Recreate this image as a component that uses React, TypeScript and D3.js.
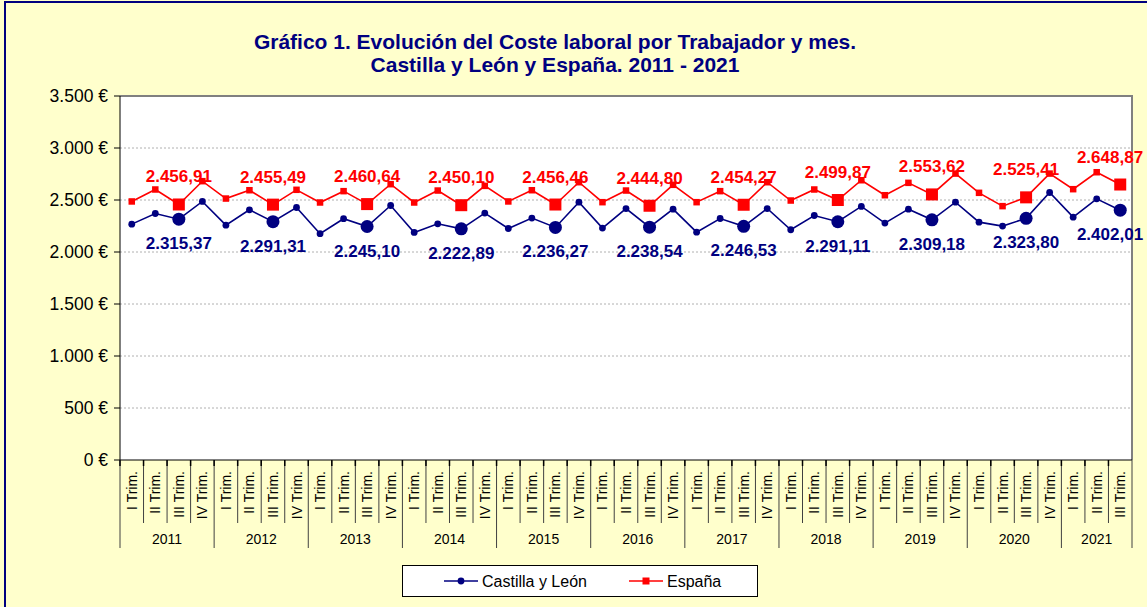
import React from "react";
import * as d3 from "d3";

const years = ["2011", "2012", "2013", "2014", "2015", "2016", "2017", "2018", "2019", "2020", "2021"];
const quarterNames = ["I Trim.", "II Trim.", "III Trim.", "IV Trim."];

// Castilla y León, euros per worker and month (2011 Q1 .. 2021 Q3)
const castillaLeon = [
  2268, 2370, 2315.37, 2486,
  2258, 2406, 2291.31, 2428,
  2176, 2320, 2245.1, 2447,
  2188, 2271, 2222.89, 2374,
  2226, 2326, 2236.27, 2479,
  2230, 2418, 2238.54, 2412,
  2191, 2322, 2246.53, 2418,
  2214, 2351, 2291.11, 2438,
  2278, 2412, 2309.18, 2479,
  2287, 2249, 2323.8, 2572,
  2335, 2511, 2402.01,
];

// España
const espana = [
  2486, 2601, 2456.91, 2681,
  2514, 2594, 2455.49, 2598,
  2476, 2585, 2460.64, 2652,
  2476, 2591, 2450.1, 2636,
  2486, 2594, 2456.46, 2671,
  2479, 2591, 2444.8, 2646,
  2479, 2585, 2454.27, 2671,
  2495, 2601, 2499.87, 2690,
  2546, 2665, 2553.62, 2754,
  2569, 2441, 2525.41, 2754,
  2604, 2767, 2648.87,
];

const yTicks = [0, 500, 1000, 1500, 2000, 2500, 3000, 3500];

const W = 1147;
const H = 607;
const left = 120, right = 1132, top = 96, bottom = 460;
const BLUE = "#000080";
const RED = "#FF0000";

const es = d3.formatLocale({ decimal: ",", thousands: ".", grouping: [3], currency: ["", " €"] });
const fmtVal = es.format(",.2f");
const fmtTick = es.format(",");

export default function App() {
  const n = castillaLeon.length;
  const idx = d3.range(n);
  const x = d3.scaleBand<number>().domain(idx).range([left, right]).padding(0);
  const y = d3.scaleLinear().domain([0, 3500]).range([bottom, top]);
  const cx = (i: number) => (x(i) as number) + x.bandwidth() / 2;

  const lineGen = d3.line<number>().x((_, i) => cx(i)).y((v) => y(v));

  // categories: quarter of each point, year groups
  const quarterOf = (i: number) => quarterNames[i % 4];
  const yearStart = years.map((_, k) => k * 4);
  const labelX = (i: number) => Math.min(cx(i), 1110);

  return (
    <svg width={W} height={H} style={{ position: "absolute", left: 0, top: 0 }} fontFamily="Arial, 'Liberation Sans', sans-serif">
      <rect x={0} y={0} width={W} height={H} fill="#FFFFCC" />
      <rect x={5} y={2} width={W + 20} height={H + 20} fill="#FFFFCC" stroke={BLUE} strokeWidth={2} />

      {/* title */}
      <text x={555} y={49} textAnchor="middle" fontSize={21} fontWeight="bold" fill={BLUE}>
        Gráfico 1. Evolución del Coste laboral por Trabajador y mes.
      </text>
      <text x={555} y={72} textAnchor="middle" fontSize={21} fontWeight="bold" fill={BLUE}>
        Castilla y León y España. 2011 - 2021
      </text>

      {/* plot area */}
      <rect x={left} y={top} width={right - left} height={bottom - top} fill="#fff" />
      {yTicks.filter((t) => t > 0 && t < 3500).map((t) => (
        <line key={t} x1={left} x2={right} y1={y(t)} y2={y(t)} stroke="#b0b0b0" strokeDasharray="2,2" />
      ))}
      <line x1={left} x2={right + 1} y1={top} y2={top} stroke="#808080" strokeWidth={2} />
      <line x1={right} x2={right} y1={top} y2={bottom} stroke="#808080" strokeWidth={2} />

      {/* y axis */}
      <line x1={left} x2={left} y1={top} y2={bottom} stroke="#000" />
      {yTicks.map((t) => (
        <g key={t}>
          <line x1={left - 6} x2={left} y1={y(t)} y2={y(t)} stroke="#000" />
          <text x={108} y={y(t) + 6} textAnchor="end" fontSize={17.5} fill="#000">
            {fmtTick(t) + " €"}
          </text>
        </g>
      ))}

      {/* x axis */}
      <line x1={left} x2={right} y1={bottom} y2={bottom} stroke="#000" />
      {d3.range(n + 1).map((i) => {
        const xx = i < n ? (x(i) as number) : right;
        const isYear = i % 4 === 0 || i === n;
        return <line key={i} x1={xx} x2={xx} y1={bottom} y2={isYear ? 548 : 523} stroke="#404040" />;
      })}
      {idx.map((i) => (
        <line key={"tk" + i} x1={x(i) as number} x2={x(i) as number} y1={bottom} y2={bottom + 6} stroke="#000" strokeWidth={1.5} />
      ))}
      {idx.map((i) => (
        <text key={"q" + i} transform={`translate(${cx(i) + 5},471) rotate(-90)`} textAnchor="end" fontSize={14} fill="#000">
          {quarterOf(i)}
        </text>
      ))}
      {years.map((yr, k) => {
        const s = yearStart[k];
        const e = Math.min(s + 4, n);
        const x0 = x(s) as number;
        const x1 = e < n ? (x(e) as number) : right;
        return (
          <text key={yr} x={(x0 + x1) / 2} y={544} textAnchor="middle" fontSize={14} fill="#000">
            {yr}
          </text>
        );
      })}

      {/* series */}
      <path d={lineGen(castillaLeon) || ""} fill="none" stroke={BLUE} strokeWidth={1.6} />
      <path d={lineGen(espana) || ""} fill="none" stroke={RED} strokeWidth={1.6} />

      {castillaLeon.map((v, i) => (
        <circle key={"c" + i} cx={cx(i)} cy={y(v)} r={i % 4 === 2 ? 6.5 : 3.4} fill={BLUE} />
      ))}
      {espana.map((v, i) => {
        const s = i % 4 === 2 ? 12 : 6.5;
        return <rect key={"e" + i} x={cx(i) - s / 2} y={y(v) - s / 2} width={s} height={s} fill={RED} />;
      })}

      {/* data labels at III Trim. */}
      {espana.map((v, i) =>
        i % 4 === 2 ? (
          <text key={"le" + i} x={labelX(i)} y={y(v) - 22} textAnchor="middle" fontSize={17} fontWeight="bold" fill={RED}>
            {fmtVal(v)}
          </text>
        ) : null
      )}
      {castillaLeon.map((v, i) =>
        i % 4 === 2 ? (
          <text key={"lc" + i} x={labelX(i)} y={y(v) + 30} textAnchor="middle" fontSize={17} fontWeight="bold" fill={BLUE}>
            {fmtVal(v)}
          </text>
        ) : null
      )}

      {/* legend */}
      <rect x={402.5} y={565.5} width={355} height={31} fill="#fff" stroke="#000" />
      <line x1={444} x2={478} y1={581} y2={581} stroke={BLUE} strokeWidth={1.6} />
      <circle cx={461} cy={581} r={3.4} fill={BLUE} />
      <text x={482} y={587} fontSize={16} fill="#000">Castilla y León</text>
      <line x1={629} x2={663} y1={581} y2={581} stroke={RED} strokeWidth={1.6} />
      <rect x={646 - 3.5} y={581 - 3.5} width={7} height={7} fill={RED} />
      <text x={667} y={587} fontSize={16} fill="#000">España</text>
    </svg>
  );
}
